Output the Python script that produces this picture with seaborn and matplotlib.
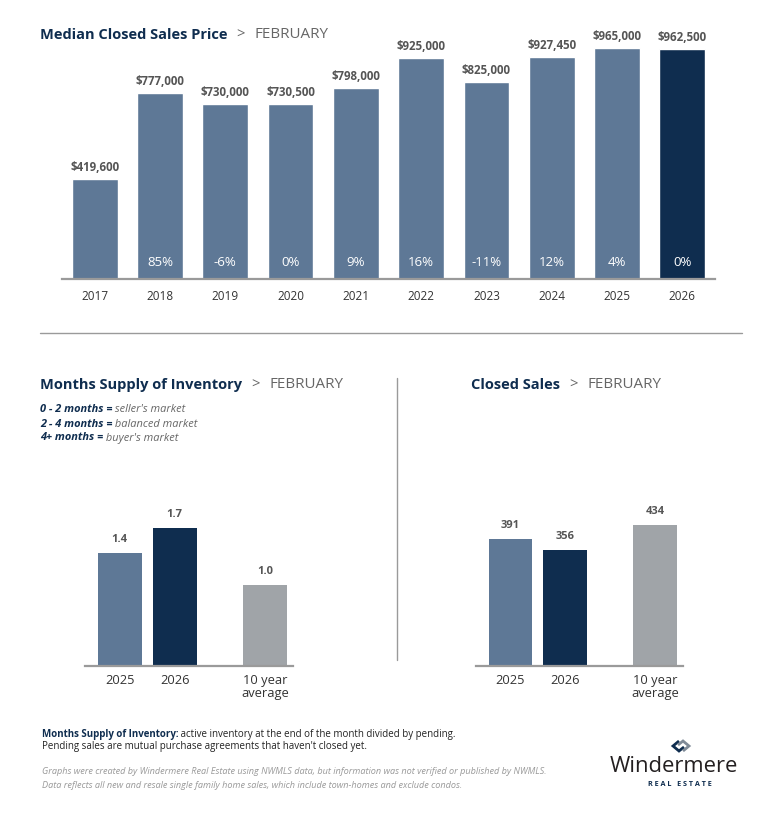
import matplotlib
matplotlib.use("Agg")
import matplotlib.pyplot as plt
from matplotlib.lines import Line2D
import seaborn as sns
import pandas as pd

# ---------------- data ----------------
years = ["2017", "2018", "2019", "2020", "2021", "2022", "2023", "2024", "2025", "2026"]
median_price = [419600, 777000, 730000, 730500, 798000, 925000, 825000, 927450, 965000, 962500]
price_labels = ["$419,600", "$777,000", "$730,000", "$730,500", "$798,000",
                "$925,000", "$825,000", "$927,450", "$965,000", "$962,500"]
pct_change = ["", "85%", "-6%", "0%", "9%", "16%", "-11%", "12%", "4%", "0%"]

small_cats = ["2025", "2026", "10 year\naverage"]
supply_values = [1.4, 1.7, 1.0]
supply_labels = ["1.4", "1.7", "1.0"]
sales_values = [391, 356, 434]
sales_labels = ["391", "356", "434"]

# ---------------- style ----------------
SLATE = "#5E7896"
NAVY = "#0F2D4F"
GREY = "#A0A4A8"
TXT = "#333333"
LBL = "#555555"
W, H = 776, 817

sns.set_theme(style="white")
plt.rcParams["font.family"] = ["Open Sans", "DejaVu Sans"]

fig = plt.figure(figsize=(W / 100, H / 100), dpi=100)


def px(x, y):
    return x / W, 1 - y / H


def add_ax(left, top, right, bottom):
    return fig.add_axes([left / W, 1 - bottom / H, (right - left) / W, (bottom - top) / H])


def style_ax(ax):
    for s in ["top", "left", "right"]:
        ax.spines[s].set_visible(False)
    ax.spines["bottom"].set_color("#9a9a9a")
    ax.spines["bottom"].set_linewidth(1.6)
    ax.set_yticks([])
    ax.set_xlabel("")
    ax.set_ylabel("")
    ax.tick_params(axis="x", length=0, colors=TXT)


def put(x, y, s, size, **kw):
    """place text with left edge at pixel x, return right edge pixel"""
    t = fig.text(*px(x, y), s, fontsize=size, va="center", ha="left", **kw)
    fig.canvas.draw()
    return t.get_window_extent().x1


def title(x, y, main):
    x1 = put(x, y, main, 10.5, fontweight="bold", color=NAVY)
    x2 = put(x1 + 9, y, ">", 10.6, color="#666666")
    put(x2 + 10, y, "FEBRUARY", 10.9, color="#666666")


# ---------------- top chart ----------------
ax1 = add_ax(62, 28, 715, 279)
df1 = pd.DataFrame({"year": years, "price": median_price})
colors1 = [SLATE] * (len(years) - 1) + [NAVY]
sns.barplot(data=df1, x="year", y="price", hue="year", palette=colors1,
            legend=False, width=0.7, ax=ax1, saturation=1)
ax1.set_xlim(-0.5, len(years) - 0.5)
ax1.set_ylim(0, 1050000)
style_ax(ax1)
ax1.tick_params(axis="x", labelsize=8.5, pad=8)
for i, (v, lab, pc) in enumerate(zip(median_price, price_labels, pct_change)):
    ax1.annotate(lab, xy=(i, v), xytext=(0, 5), textcoords="offset pixels",
                 ha="center", va="bottom", fontsize=8.3, fontweight="bold", color=LBL)
    if pc:
        ax1.annotate(pc, xy=(i, 0), xytext=(0, 17), textcoords="offset pixels",
                     ha="center", va="center", fontsize=9.5, color="white")

title(40, 35, "Median Closed Sales Price")

# separator lines
fig.add_artist(Line2D([40 / W, 742 / W], [1 - 333 / H, 1 - 333 / H], color="#9a9a9a", lw=1))
fig.add_artist(Line2D([397 / W, 397 / W], [1 - 378 / H, 1 - 660 / H], color="#9a9a9a", lw=1))

# ---------------- small charts ----------------
POS = [0.0, 1.0, 2.64]


def small_chart(ax, values, labels, ymax):
    df = pd.DataFrame({"pos": POS, "val": values})
    sns.barplot(data=df, x="pos", y="val", native_scale=True, width=0.8,
                color=SLATE, ax=ax, saturation=1)
    for p, c in zip(ax.patches, [SLATE, NAVY, GREY]):
        p.set_facecolor(c)
        p.set_edgecolor("none")
    ax.set_xlim(-0.63, 3.15)
    ax.set_ylim(0, ymax)
    style_ax(ax)
    ax.set_xticks(POS)
    ax.set_xticklabels(small_cats, fontsize=9.3, linespacing=0.95)
    ax.tick_params(axis="x", pad=6)
    for x, v, lab in zip(POS, values, labels):
        ax.annotate(lab, xy=(x, v), xytext=(0, 8), textcoords="offset pixels",
                    ha="center", va="bottom", fontsize=8, fontweight="bold", color=LBL)


ax2 = add_ax(85, 488, 293, 666)
small_chart(ax2, supply_values, supply_labels, 2.2)
ax3 = add_ax(476, 488, 683, 666)
small_chart(ax3, sales_values, sales_labels, 547)

title(40, 385, "Months Supply of Inventory")
title(471, 385, "Closed Sales")

legend_rows = [("0 - 2 months =", " seller's market", 410),
               ("2 - 4 months =", " balanced market", 424),
               ("4+ months =", " buyer's market", 438)]
for bold, rest, y in legend_rows:
    xe = put(40, y, bold, 7.9, fontweight="bold", style="italic", color=NAVY)
    put(xe, y, rest, 7.9, style="italic", color="#666666")

# ---------------- footnotes ----------------
xe = put(42, 734, "Months Supply of Inventory:", 7.0, fontweight="bold", color=NAVY)
put(xe, 734, " active inventory at the end of the month divided by pending.", 7.0,
    color="#222222")
put(42, 746, "Pending sales are mutual purchase agreements that haven't closed yet.",
    7.0, color="#222222")
put(42, 772, "Graphs were created by Windermere Real Estate using NWMLS data, but information was not verified or published by NWMLS.",
    6.6, style="italic", color="#999999")
put(42, 785, "Data reflects all new and resale single family home sales, which include town-homes and exclude condos.",
    6.6, style="italic", color="#999999")

# ---------------- logo ----------------
fig.text(*px(674, 766), "Windermere", fontsize=15.8, color="#231F20",
         va="center", ha="center")
fig.text(*px(680, 784), "R E A L   E S T A T E", fontsize=5.2, fontweight="bold",
         color=NAVY, va="center", ha="center")
cx, cy = 681, 746
left_chev = [(cx - 2, cy - 5), (cx - 8, cy), (cx - 2, cy + 5), (cx + 3, cy + 1)]
right_chev = [(cx + 2, cy + 5), (cx + 8, cy), (cx + 2, cy - 5), (cx - 3, cy - 1)]
for pts, col in [(left_chev, NAVY), (right_chev, "#7F8A97")]:
    xs = [p[0] / W for p in pts]
    ys = [1 - p[1] / H for p in pts]
    fig.add_artist(Line2D(xs, ys, color=col, lw=2.0, solid_capstyle="butt",
                          solid_joinstyle="miter"))

fig.savefig("out.png", dpi=100)
